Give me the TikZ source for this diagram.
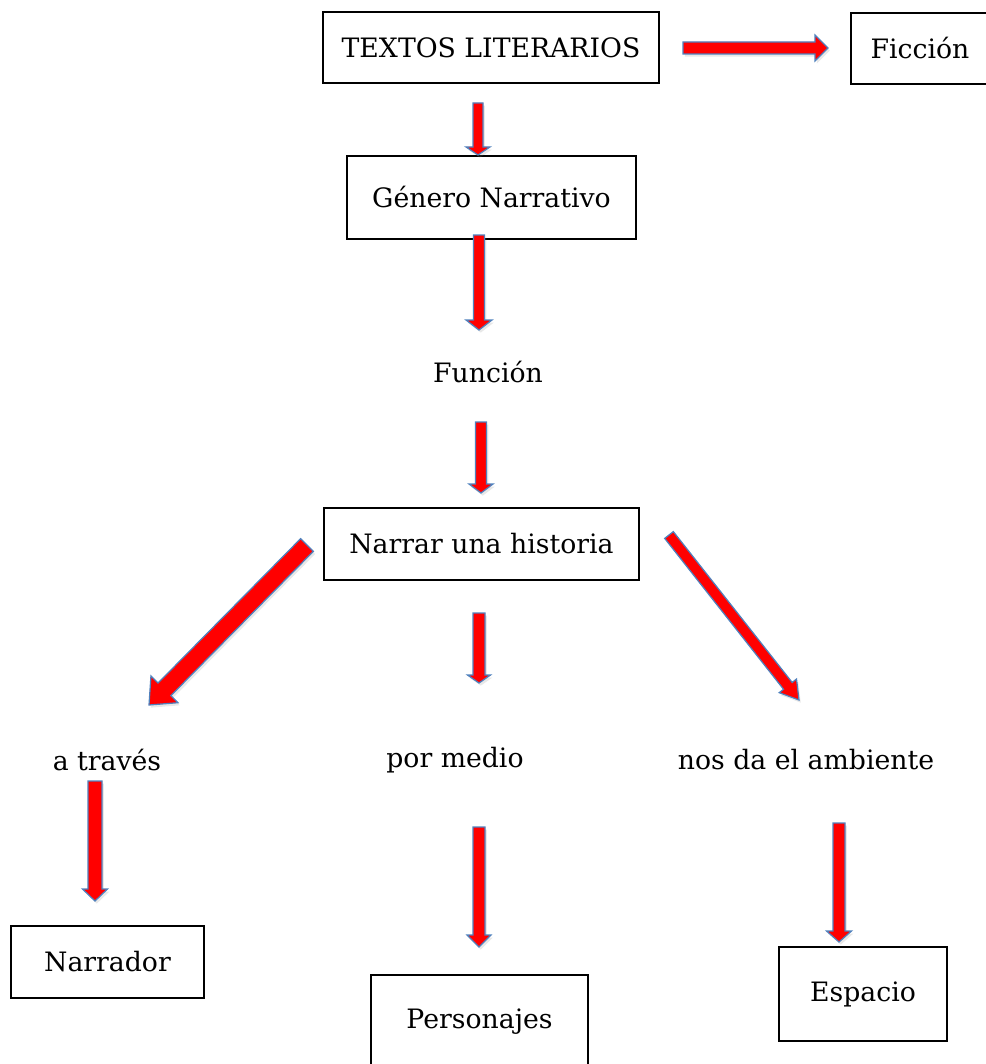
\documentclass[tikz,border=0pt]{standalone}
\usepackage{fontspec}
\setmainfont{DejaVu Serif}
\usetikzlibrary{calc, shadows}
\definecolor{flechared}{RGB}{255, 0, 0}
\definecolor{flecheblue}{RGB}{79, 129, 189}

% block arrow: start, end, shaft half width, head half width, head length (in px)
\newcommand{\flecha}[5]{%
  \coordinate (neck) at ($(#2)!#5*0.02cm!(#1)$);
  \draw[blockarrow] ($(#1)!#3*0.02cm!90:(#2)$) -- ($(neck)!#3*0.02cm!90:(#2)$)
    -- ($(neck)!#4*0.02cm!90:(#2)$) -- (#2) -- ($(neck)!#4*0.02cm!-90:(#2)$)
    -- ($(neck)!#3*0.02cm!-90:(#2)$) -- ($(#1)!#3*0.02cm!-90:(#2)$) -- cycle;}

\begin{document}
\begin{tikzpicture}[
    x=0.02cm, y=-0.02cm,
    caja/.style={rectangle, draw=black, line width=0.8pt, inner sep=0pt, font=\fontsize{15.2}{17}\selectfont},
    texto/.style={inner sep=0pt, font=\fontsize{15.2}{17}\selectfont},
    blockarrow/.style={fill=flechared, draw=flecheblue, line width=0.7pt, line join=miter,
        drop shadow={shadow xshift=1pt, shadow yshift=-1.5pt, opacity=0.18}},
]
\useasboundingbox (0,0) rectangle (985,1064);

% Boxes and texts
\node[caja, minimum width=336*0.02cm, minimum height=71*0.02cm] (lit) at (491,47.5) {TEXTOS LITERARIOS};
\node[caja, minimum width=152*0.02cm, minimum height=71*0.02cm] (fic) at (927,48.5) {\hspace*{-0.28cm}Ficción};
\node[caja, minimum width=289*0.02cm, minimum height=83*0.02cm] (gen) at (491.5,197.5) {Género Narrativo};
\node[texto] (fun) at (488,372) {Función};
\node[caja, minimum width=315*0.02cm, minimum height=72*0.02cm] (nar) at (481.5,544) {Narrar una historia};

\node[texto] (tra) at (107,760) {a través};
\node[texto] (med) at (455,760) {por medio};
\node[texto] (amb) at (806,760) {nos da el ambiente};

\node[caja, minimum width=193*0.02cm, minimum height=72*0.02cm] (narr) at (107.5,962) {Narrador};
\node[caja, minimum width=217*0.02cm, minimum height=94*0.02cm] (per) at (479.5,1022) {\raisebox{0.1cm}{Personajes}};
\node[caja, minimum width=168*0.02cm, minimum height=94*0.02cm] (esp) at (863,994) {Espacio};

% Arrow ends
\coordinate (a1) at (683,48);  \coordinate (b1) at (828,48);
\coordinate (a2) at (478,103); \coordinate (b2) at (478,155);
\coordinate (a3) at (479,235); \coordinate (b3) at (479,330);
\coordinate (a4) at (481,422); \coordinate (b4) at (481,493);
\coordinate (a5) at (307,545); \coordinate (b5) at (149,705);
\coordinate (a6) at (669,535); \coordinate (b6) at (799,700);
\coordinate (a7) at (479,613); \coordinate (b7) at (479,683);
\coordinate (a8) at (95,781);  \coordinate (b8) at (95,901);
\coordinate (a9) at (479,827); \coordinate (b9) at (479,947);
\coordinate (a10) at (839,823); \coordinate (b10) at (839,942);

% Arrows
\flecha{a1}{b1}{6}{13}{13}
\flecha{a2}{b2}{5}{12}{8}
\flecha{a3}{b3}{5.5}{13}{10}
\flecha{a4}{b4}{5.5}{12}{9}
\flecha{a5}{b5}{9}{19}{22}
\flecha{a6}{b6}{5.5}{11}{18}
\flecha{a7}{b7}{6}{11.5}{8}
\flecha{a8}{b8}{7}{12.5}{12}
\flecha{a9}{b9}{6}{12}{12}
\flecha{a10}{b10}{6}{12.5}{11}

\end{tikzpicture}
\end{document}
